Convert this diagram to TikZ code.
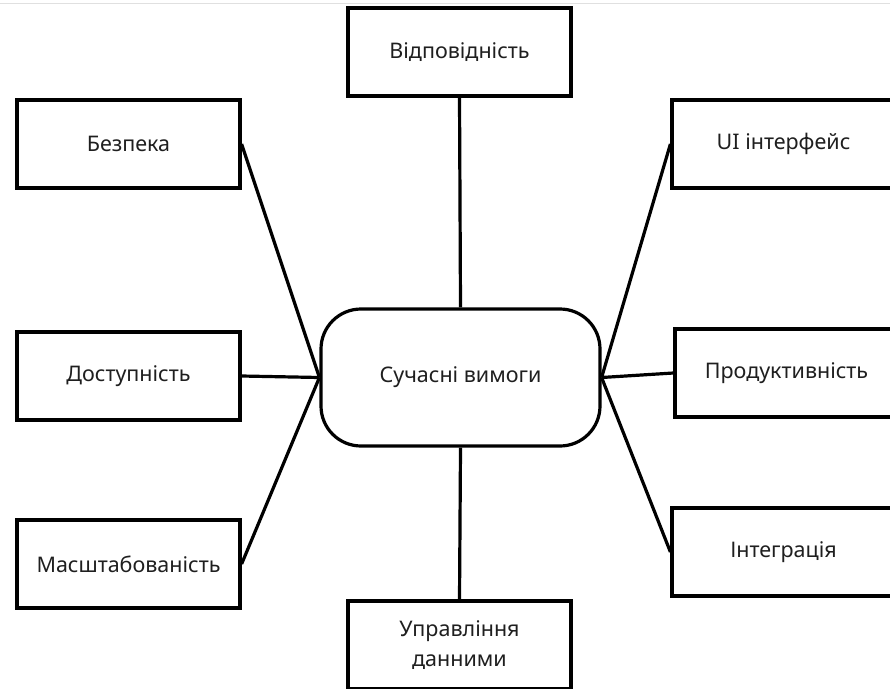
\documentclass[tikz,border=0pt]{standalone}
\usepackage{fontspec}
\setmainfont{Noto Sans}
\usetikzlibrary{positioning}

\tikzset{
	reqbox/.style={draw, line width=3.2pt, minimum width=223pt, minimum height=88pt, inner sep=0pt, align=center, font=\fontsize{21.5}{30}\selectfont, text=black!88},
	hubbox/.style={reqbox, rounded corners=40pt, minimum width=279pt, minimum height=137pt},
	link/.style={line width=3.2pt}
}

\begin{document}
\begin{tikzpicture}[x=1pt, y=-1pt]
		%%%%% START %%%%%
		\useasboundingbox (0, 0) rectangle (890, 688);
		\clip (0, 0) rectangle (890, 688);
		\draw[black!12, line width=1pt] (0, 3) -- (890, 3);
		
		\node[hubbox] (hub) at (460.5, 377.5) {Сучасні вимоги};
		
		\node[reqbox] (vidp) at (459.5, 52) {Відповідність};
		\node[reqbox] (upr) at (459.5, 645) {Управління\\данними};
		
		\node[reqbox] (bezp) at (128.5, 144) {Безпека};
		\node[reqbox] (dost) at (128.5, 376) {Доступність};
		\node[reqbox] (masht) at (128.5, 564) {Масштабованість};
		
		\node[reqbox] (ui) at (783.5, 144) {UI інтерфейс};
		\node[reqbox] (prod) at (786.5, 373) {Продуктивність};
		\node[reqbox] (intg) at (783.5, 552) {Інтеграція};
		
		\draw[link] (vidp.south) -- (hub.north);
		\draw[link] (hub.south) -- (upr.north);
		
		\draw[link] (bezp.east) -- (hub.west);
		\draw[link] (dost.east) -- (hub.west);
		\draw[link] (masht.east) -- (hub.west);
		
		\draw[link] (ui.west) -- (hub.east);
		\draw[link] (prod.west) -- (hub.east);
		\draw[link] (intg.west) -- (hub.east);
		%%%%% END %%%%%
	\end{tikzpicture}
\end{document}
